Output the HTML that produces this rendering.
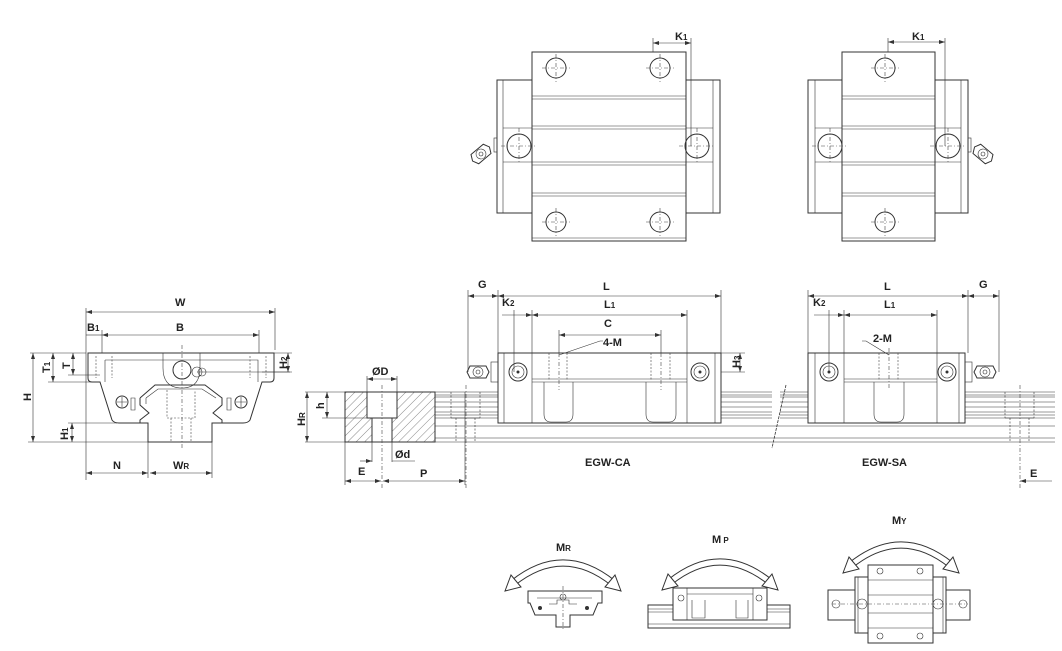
<!DOCTYPE html>
<html><head><meta charset="utf-8"><style>
html,body{margin:0;padding:0;background:#fff;}
svg{display:block;}
text{font-family:"Liberation Sans",sans-serif;font-size:11px;fill:#222;font-weight:bold;}
.s{fill:none;stroke:#333;stroke-width:1;}
.t{fill:none;stroke:#333;stroke-width:0.6;}
.d{fill:none;stroke:#444;stroke-width:0.6;stroke-dasharray:4 2 1 2;}
.h{fill:none;stroke:#444;stroke-width:0.6;stroke-dasharray:2 1.5;}
.w{fill:#fff;stroke:#333;stroke-width:1;}
</style></head><body>
<svg width="1062" height="651" viewBox="0 0 1062 651" xmlns="http://www.w3.org/2000/svg">
<defs>
<marker id="a" markerWidth="6" markerHeight="6" refX="6" refY="3" orient="auto-start-reverse" markerUnits="userSpaceOnUse"><path d="M0,1 L6,3 L0,5z" fill="#333"/></marker>
<pattern id="hat" width="6" height="6" patternUnits="userSpaceOnUse" patternTransform="rotate(45)"><line x1="0" y1="0" x2="0" y2="6" stroke="#555" stroke-width="0.7"/></pattern>
<g id="hole"><circle r="10" class="s"/><path d="M-14,0H14M0,-14V14" class="d"/></g>
<g id="bighole"><circle r="12" class="s"/><path d="M-18,0H18M0,-18V18" class="d"/></g>
<g id="arc"><path d="M-50,20 Q0,-20 50,20" fill="none" stroke="#333" stroke-width="7"/><path d="M-50,20 Q0,-20 50,20" fill="none" stroke="#fff" stroke-width="5"/>
<path d="M-58,28 L-52,12 L-42,24z" class="w"/><path d="M58,28 L52,12 L42,24z" class="w"/></g>
<g id="nip"><path d="M-8,-6 L8,-6 L11,0 L8,6 L-8,6 L-11,0z" class="s"/><circle r="5" class="t"/><circle r="2" class="t"/></g>
</defs>

<!-- ===== TOP VIEW LEFT (CA) ===== -->
<rect x="497" y="80" width="35" height="133" class="s"/><line x1="503" y1="80" x2="503" y2="213" class="t"/>
<rect x="686" y="80" width="34" height="133" class="s"/><line x1="713" y1="80" x2="713" y2="213" class="t"/>
<path d="M503,128H532M503,162H532M686,128H713M686,162H713" class="t"/>
<rect x="532" y="52" width="154" height="189" class="s"/>
<path d="M532,96H686M532,99H686M532,126H686M532,129H686M532,162H686M532,165H686M532,193H686M532,196H686M532,238H686" class="t"/>
<use href="#hole" x="556" y="68"/><use href="#hole" x="660" y="68"/>
<use href="#hole" x="556" y="222"/><use href="#hole" x="660" y="222"/>
<use href="#bighole" x="519" y="146"/><use href="#bighole" x="697" y="146"/>
<rect x="494" y="138" width="3" height="14" class="t"/>
<g transform="translate(481,154) rotate(-40)"><use href="#nip"/></g>
<path d="M653,38V52M691,38V146" class="t"/><line x1="653" y1="43" x2="691" y2="43" class="t" marker-start="url(#a)" marker-end="url(#a)"/>
<text x="675" y="40">K<tspan font-size="8">1</tspan></text>

<!-- ===== TOP VIEW RIGHT (SA) ===== -->
<rect x="808" y="80" width="34" height="133" class="s"/><line x1="815" y1="80" x2="815" y2="213" class="t"/>
<rect x="935" y="80" width="33" height="133" class="s"/><line x1="961" y1="80" x2="961" y2="213" class="t"/>
<path d="M815,128H842M815,162H842M935,128H961M935,162H961" class="t"/>
<rect x="842" y="52" width="93" height="189" class="s"/>
<path d="M842,96H935M842,99H935M842,126H935M842,129H935M842,162H935M842,165H935M842,193H935M842,196H935M842,238H935" class="t"/>
<use href="#hole" x="885" y="68"/><use href="#hole" x="885" y="222"/>
<use href="#bighole" x="830" y="146"/><use href="#bighole" x="948" y="146"/>
<rect x="968" y="138" width="3" height="14" class="t"/>
<g transform="translate(983,154) rotate(40)"><use href="#nip"/></g>
<path d="M888,38V52M945,38V146" class="t"/><line x1="888" y1="42" x2="945" y2="42" class="t" marker-start="url(#a)" marker-end="url(#a)"/>
<text x="912" y="40">K<tspan font-size="8">1</tspan></text>

<!-- ===== END VIEW ===== -->
<path d="M88,353 H274 V378 Q274,382 270,382 H262 L250,420 Q248,423 243,423 H212 V442 H148 V423 H119 Q114,423 112,420 L100,382 H92 Q88,382 88,378z" class="s"/>
<path d="M163,353 V368 Q163,388 182,388 Q200,388 200,368 V353" class="t"/>
<path d="M105,360 H258 V382 M105,360 V382" class="t"/>
<path d="M96,356 V378 M112,356 V378 M250,356 V378 M266,356 V378" class="h"/>
<path d="M140,398 L155,385 H205 L222,398 V405 L213,413 L222,420 V423 M140,398 V405 L149,413 L140,420 V423" class="s"/>
<path d="M146,398 L158,389 H202 L216,398 M146,398 V404" class="t"/>
<path d="M135,398 v12 h-4 v-12z M227,398 v12 h4 v-12z" class="t"/>
<path d="M167,390 V418 H195 V390 M171,418 V442 M191,418 V442" class="h"/>
<circle cx="182" cy="370" r="9" class="s"/><circle cx="197" cy="372" r="5" class="t"/><circle cx="202" cy="372" r="4" class="t"/>
<circle cx="122" cy="402" r="6" class="s"/><path d="M117,402H127M122,397V407" class="t"/>
<circle cx="241" cy="402" r="6" class="s"/><path d="M236,402H246M241,397V407" class="t"/>
<path d="M182,345 V450" class="d"/><path d="M197,372 H290" class="t"/>
<path d="M86,308V480 M275,308V350 M102,330V353 M259,330V353 M148,442V478 M212,442V478 M30,353H86 M48,382H100 M68,375H100 M68,423H117 M28,442H148 M262,353H292 M262,372H292" class="t"/>
<line x1="86" y1="312" x2="275" y2="312" class="t" marker-start="url(#a)" marker-end="url(#a)"/><text x="175" y="306">W</text>
<line x1="102" y1="335" x2="259" y2="335" class="t" marker-start="url(#a)" marker-end="url(#a)"/><text x="176" y="331">B</text>
<line x1="86" y1="335" x2="102" y2="335" class="t"/><text x="87" y="331">B<tspan font-size="8">1</tspan></text>
<line x1="33" y1="353" x2="33" y2="442" class="t" marker-start="url(#a)" marker-end="url(#a)"/><text x="23" y="401" transform="rotate(-90 27 397)">H</text>
<line x1="53" y1="353" x2="53" y2="382" class="t" marker-start="url(#a)" marker-end="url(#a)"/><text x="41" y="372" transform="rotate(-90 46 368)">T<tspan font-size="8">1</tspan></text>
<line x1="73" y1="353" x2="73" y2="375" class="t" marker-start="url(#a)" marker-end="url(#a)"/><text x="61" y="368" transform="rotate(-90 66 364)">T</text>
<line x1="288" y1="353" x2="288" y2="372" class="t" marker-start="url(#a)" marker-end="url(#a)"/><text x="276" y="366" transform="rotate(-90 283 362)">H<tspan font-size="8">2</tspan></text>
<line x1="72" y1="423" x2="72" y2="442" class="t" marker-start="url(#a)" marker-end="url(#a)"/><text x="57" y="437" transform="rotate(-90 64 433)">H<tspan font-size="8">1</tspan></text>
<line x1="86" y1="473" x2="148" y2="473" class="t" marker-start="url(#a)" marker-end="url(#a)"/><text x="113" y="469">N</text>
<line x1="150" y1="473" x2="212" y2="473" class="t" marker-start="url(#a)" marker-end="url(#a)"/><text x="173" y="469">W<tspan font-size="8">R</tspan></text>

<!-- ===== RAIL SECTION ===== -->
<rect x="345" y="392" width="90" height="50" fill="url(#hat)" stroke="#333" stroke-width="1"/>
<rect x="367" y="392" width="30" height="26" fill="#fff" stroke="#333"/>
<rect x="372" y="418" width="20" height="24" fill="#fff" stroke="#333"/>
<path d="M382,385V490" class="d"/>
<path d="M367,376V392 M397,376V392 M345,442V485 M372,442V462 M392,442V462 M465,392V485 M305,392H345 M322,418H367 M305,442H345" class="t"/>
<line x1="367" y1="379" x2="397" y2="379" class="t" marker-start="url(#a)" marker-end="url(#a)"/><text x="372" y="375">ØD</text>
<line x1="327" y1="392" x2="327" y2="418" class="t" marker-start="url(#a)" marker-end="url(#a)"/><text x="316" y="409" transform="rotate(-90 320 405)">h</text>
<line x1="307" y1="392" x2="307" y2="442" class="t" marker-start="url(#a)" marker-end="url(#a)"/><text x="292" y="421" transform="rotate(-90 301 417)">H<tspan font-size="8">R</tspan></text>
<line x1="392" y1="461" x2="415" y2="461" class="t"/><line x1="360" y1="461" x2="372" y2="461" class="t" marker-end="url(#a)"/><text x="395" y="458">Ød</text>
<line x1="345" y1="481" x2="381" y2="481" class="t" marker-start="url(#a)" marker-end="url(#a)"/><text x="358" y="475">E</text>
<line x1="383" y1="481" x2="465" y2="481" class="t" marker-start="url(#a)" marker-end="url(#a)"/><text x="420" y="477">P</text>

<!-- ===== SIDE VIEW RAIL ===== -->
<g class="t">
<path d="M435,392H772 M435,395H772 M435,397H772 M435,402H772 M435,407H772 M435,412H772 M435,415H772 M435,418H772 M435,426H1055 M435,438H1055 M435,442H1055 M780,392H1055 M780,395H1055 M780,397H1055 M780,402H1055 M780,407H1055 M780,412H1055 M780,415H1055 M780,418H1055"/>
<path d="M451,392V418 M480,392V418 M456,418V442 M475,418V442 M1005,392V418 M1034,392V418 M1010,418V442 M1029,418V442" stroke-dasharray="2 1.5"/>
<path d="M451,418H480 M1005,418H1034"/>
</g>
<path d="M786,385 L772,448" stroke="#333" stroke-width="0.8" stroke-dasharray="3 1"/>
<path d="M466,385V490 M1020,385V490" class="d"/>

<!-- CA block -->
<rect x="498" y="353" width="223" height="70" class="w"/>
<path d="M532,353V423 M687,353V423 M504,353V423 M715,353V423 M532,379H687 M532,382H687" class="t"/>
<path d="M544,382 V414 Q544,422 551,422 H566 Q573,422 573,414 V382 M646,382 V414 Q646,422 653,422 H669 Q676,422 676,414 V382" class="t"/>
<path d="M549,353V381 M567,353V381 M651,353V381 M670,353V381" class="h"/>
<path d="M559,353V390 M661,353V390" class="d"/>
<circle cx="518" cy="372" r="9" class="s"/><circle cx="518" cy="372" r="6" class="t"/><circle cx="518" cy="372" r="1.5" fill="#333"/>
<circle cx="700" cy="372" r="9" class="s"/><circle cx="700" cy="372" r="6" class="t"/><circle cx="700" cy="372" r="1.5" fill="#333"/>
<rect x="491" y="362" width="7" height="20" class="t"/>
<use href="#nip" x="478" y="372"/>
<path d="M468,290V372 M498,290V353 M721,290V353 M532,310V353 M687,310V353 M514,310V372 M559,330V353 M661,330V353 M721,353H745 M721,372H745" class="t"/>
<line x1="498" y1="296" x2="721" y2="296" class="t" marker-start="url(#a)" marker-end="url(#a)"/><text x="603" y="290">L</text>
<line x1="468" y1="296" x2="498" y2="296" class="t" marker-start="url(#a)" marker-end="url(#a)"/><text x="478" y="288">G</text>
<line x1="502" y1="315" x2="532" y2="315" class="t" marker-end="url(#a)"/><text x="502" y="306">K<tspan font-size="8">2</tspan></text>
<line x1="532" y1="315" x2="687" y2="315" class="t" marker-start="url(#a)" marker-end="url(#a)"/><text x="604" y="308">L<tspan font-size="8">1</tspan></text>
<line x1="559" y1="335" x2="661" y2="335" class="t" marker-start="url(#a)" marker-end="url(#a)"/><text x="604" y="327">C</text>
<path d="M559,355 L600,341 H603" class="t"/><text x="603" y="346">4-M</text>
<line x1="740" y1="353" x2="740" y2="372" class="t" marker-start="url(#a)" marker-end="url(#a)"/><text x="731" y="367" transform="rotate(-90 736 363)">H<tspan font-size="8">3</tspan></text>
<text x="585" y="466" font-size="10">EGW-CA</text>

<!-- SA block -->
<rect x="808" y="353" width="157" height="70" class="w"/>
<path d="M844,353V423 M937,353V423 M815,353V423 M959,353V423 M844,379H937 M844,382H937" class="t"/>
<path d="M874,382 V414 Q874,422 881,422 H897 Q904,422 904,414 V382" class="t"/>
<path d="M879,353V381 M898,353V381" class="h"/><path d="M889,348V390" class="d"/>
<circle cx="829" cy="372" r="9" class="s"/><circle cx="829" cy="372" r="6" class="t"/><circle cx="829" cy="372" r="1.5" fill="#333"/>
<circle cx="947" cy="372" r="9" class="s"/><circle cx="947" cy="372" r="6" class="t"/><circle cx="947" cy="372" r="1.5" fill="#333"/>
<rect x="965" y="362" width="7" height="20" class="t"/>
<use href="#nip" x="985" y="372"/>
<path d="M808,290V353 M968,290V353 M999,290V372 M844,310V353 M937,310V353 M829,310V372" class="t"/>
<line x1="808" y1="296" x2="968" y2="296" class="t" marker-start="url(#a)" marker-end="url(#a)"/><text x="884" y="290">L</text>
<line x1="968" y1="296" x2="999" y2="296" class="t" marker-start="url(#a)" marker-end="url(#a)"/><text x="979" y="288">G</text>
<line x1="814" y1="315" x2="844" y2="315" class="t" marker-end="url(#a)"/><text x="813" y="306">K<tspan font-size="8">2</tspan></text>
<line x1="844" y1="315" x2="937" y2="315" class="t" marker-start="url(#a)" marker-end="url(#a)"/><text x="884" y="308">L<tspan font-size="8">1</tspan></text>
<path d="M889,355 L866,341 H862" class="t"/><text x="873" y="342">2-M</text>
<text x="862" y="466" font-size="10">EGW-SA</text>
<line x1="1020" y1="481" x2="1052" y2="481" class="t" marker-start="url(#a)"/><text x="1030" y="477">E</text>

<!-- ===== MOMENT ICONS ===== -->
<use href="#arc" x="563" y="563"/><text x="556" y="551">M<tspan font-size="8">R</tspan></text>
<path d="M528,591 H602 V603 H598 L593,615 H570 V627 H556 V615 H535 L530,603 H528z" class="s"/>
<path d="M537,598 H592 M549,604 h8 v-4 h12 v4 h8" class="t"/><circle cx="563" cy="597" r="3" class="t"/><circle cx="540" cy="608" r="2" fill="#333"/><circle cx="587" cy="608" r="2" fill="#333"/>
<path d="M563,586V630" class="d"/>

<use href="#arc" x="720" y="562"/><text x="712" y="543">M<tspan font-size="8"> P</tspan></text>
<rect x="648" y="605" width="142" height="23" class="s"/><path d="M648,609H790M648,612H790M648,624H790" class="t"/>
<rect x="673" y="588" width="94" height="32" class="w"/><path d="M687,588V620 M753,588V620 M687,594H753" class="t"/>
<path d="M692,600 V618 H705 V600 M736,600 V618 H748 V600" class="t"/>
<circle cx="681" cy="598" r="3" class="t"/><circle cx="759" cy="598" r="3" class="t"/>

<use href="#arc" x="901" y="545"/><text x="892" y="524">M<tspan font-size="8">Y</tspan></text>
<rect x="828" y="590" width="142" height="30" class="s"/>
<rect x="855" y="577" width="91" height="56" class="w"/><line x1="858" y1="577" x2="858" y2="633" class="t"/><line x1="943" y1="577" x2="943" y2="633" class="t"/>
<rect x="868" y="565" width="65" height="78" class="w"/>
<path d="M868,580H933M868,595H933M868,613H933M868,628H933" class="t"/>
<circle cx="862" cy="604" r="5" class="t"/><circle cx="938" cy="604" r="5" class="t"/>
<circle cx="836" cy="604" r="4" class="t"/><circle cx="963" cy="604" r="4" class="t"/>
<circle cx="880" cy="571" r="3" class="t"/><circle cx="920" cy="571" r="3" class="t"/><circle cx="880" cy="636" r="3" class="t"/><circle cx="920" cy="636" r="3" class="t"/>
<path d="M832,604H968" class="d"/>
</svg>
</body></html>
